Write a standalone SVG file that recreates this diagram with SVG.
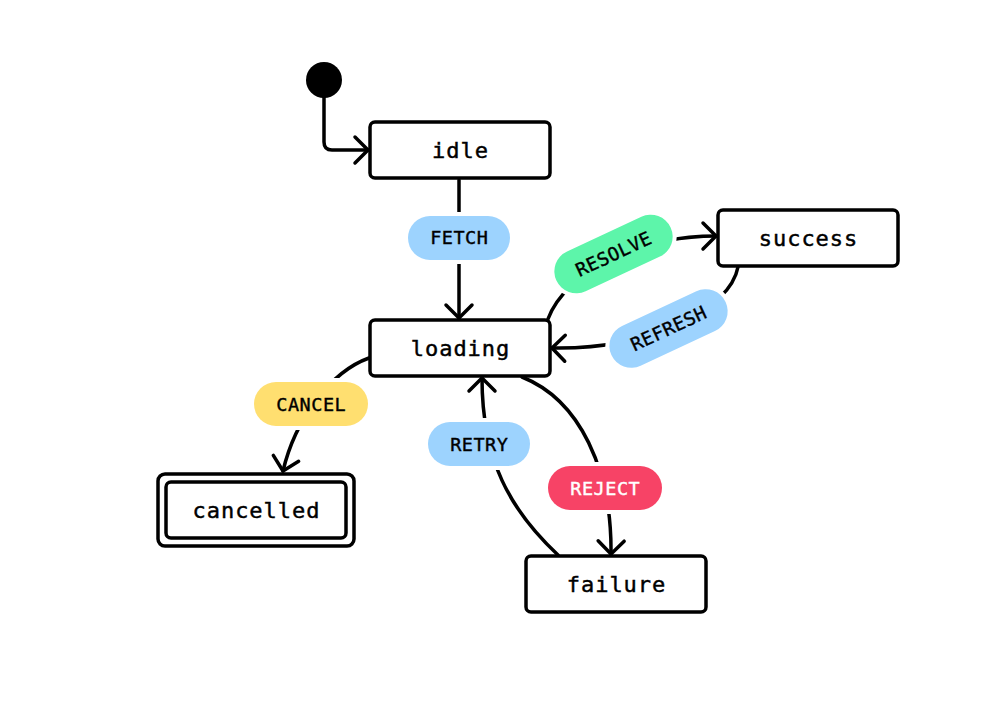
<svg xmlns="http://www.w3.org/2000/svg" width="1004" height="718" viewBox="0 0 1004 718">
  <style>
    .node { fill: #ffffff; stroke: #000000; stroke-width: 3.5; }
    .ntext { font-family: "DejaVu Sans Mono", "Liberation Mono", monospace; font-size: 22px; letter-spacing: 1px; fill: #000000; stroke: #000000; stroke-width: 0.45; text-anchor: middle; }
    .edge { fill: none; stroke: #000000; stroke-width: 3.5; stroke-linecap: round; stroke-linejoin: round; }
    .pill { stroke: #ffffff; stroke-width: 8; paint-order: stroke; }
    .ltext { font-family: "DejaVu Sans Mono", "Liberation Mono", monospace; font-size: 18.5px; letter-spacing: 0.5px; fill: #000000; stroke: #000000; stroke-width: 0.4; text-anchor: middle; }
    .wtext { fill: #ffffff; stroke: #ffffff; }
    .blue { fill: #9dd3fe; }
    .green { fill: #5df5aa; }
    .yellow { fill: #ffdf70; }
    .red { fill: #f74366; }
  </style>
  <defs>
    <marker id="arrow" markerUnits="userSpaceOnUse" markerWidth="34" markerHeight="34" viewBox="-17 -17 34 34" refX="0" refY="0" orient="auto">
      <path d="M-13,-13 L0,0 L-13,13" fill="none" stroke="#000000" stroke-width="3.5" stroke-linecap="round" stroke-linejoin="round"/>
    </marker>
  </defs>
  <rect x="0" y="0" width="1004" height="718" fill="#ffffff"/>

  <g id="connectors">
    <path id="e-start" class="edge" d="M324,96 V142 Q324,150 332,150 H368" marker-end="url(#arrow)"/>
    <path id="e-fetch" class="edge" d="M459,180 V318" marker-end="url(#arrow)"/>
    <path id="e-resolve" class="edge" d="M548,319 C565,272 640,236 716,236" marker-end="url(#arrow)"/>
    <path id="e-refresh" class="edge" d="M738,267 C730,310 650,350 552,348" marker-end="url(#arrow)"/>
    <path id="e-cancel" class="edge" d="M369,358 C330,372 295,420 283,471" marker-end="url(#arrow)"/>
    <path id="e-retry" class="edge" d="M558,555 C510,510 482,460 482,378" marker-end="url(#arrow)"/>
    <path id="e-reject" class="edge" d="M522,377 C580,400 612,470 611,554" marker-end="url(#arrow)"/>

    <g id="l-fetch">
      <rect class="pill blue" x="408" y="216" width="102" height="44" rx="22"/>
      <text class="ltext" x="459.25" y="243.5">FETCH</text>
    </g>
    <g id="l-resolve" transform="translate(613.5,254) rotate(-25)">
      <rect class="pill green" x="-63" y="-22" width="126" height="44" rx="22"/>
      <text class="ltext" x="0.25" y="6.5">RESOLVE</text>
    </g>
    <g id="l-refresh" transform="translate(668.5,328.5) rotate(-25)">
      <rect class="pill blue" x="-63" y="-22" width="126" height="44" rx="22"/>
      <text class="ltext" x="0.25" y="6.5">REFRESH</text>
    </g>
    <g id="l-cancel">
      <rect class="pill yellow" x="254" y="382" width="114" height="44" rx="22"/>
      <text class="ltext" x="311.25" y="410.5">CANCEL</text>
    </g>
    <g id="l-retry">
      <rect class="pill blue" x="428" y="422" width="102" height="44" rx="22"/>
      <text class="ltext" x="479.25" y="450.5">RETRY</text>
    </g>
    <g id="l-reject">
      <rect class="pill red" x="548" y="466" width="114" height="44" rx="22"/>
      <text class="ltext wtext" x="605.25" y="494.5">REJECT</text>
    </g>
  </g>

  <g id="start">
    <circle cx="324" cy="80" r="18" fill="#000000"/>
  </g>
  <g id="idle">
    <rect class="node" x="370" y="122" width="180" height="56" rx="5"/>
    <text class="ntext" x="460.5" y="157.7">idle</text>
  </g>
  <g id="loading">
    <rect class="node" x="370" y="320" width="180" height="56" rx="5"/>
    <text class="ntext" x="460.5" y="355.7">loading</text>
  </g>
  <g id="success">
    <rect class="node" x="718" y="210" width="180" height="56" rx="5"/>
    <text class="ntext" x="808.5" y="245.7">success</text>
  </g>
  <g id="failure">
    <rect class="node" x="526" y="556" width="180" height="56" rx="5"/>
    <text class="ntext" x="616.5" y="591.7">failure</text>
  </g>
  <g id="cancelled">
    <rect class="node" x="158" y="474" width="196" height="72" rx="7"/>
    <rect class="node" x="166" y="482" width="180" height="56" rx="5"/>
    <text class="ntext" x="256.5" y="517.7">cancelled</text>
  </g>
</svg>
